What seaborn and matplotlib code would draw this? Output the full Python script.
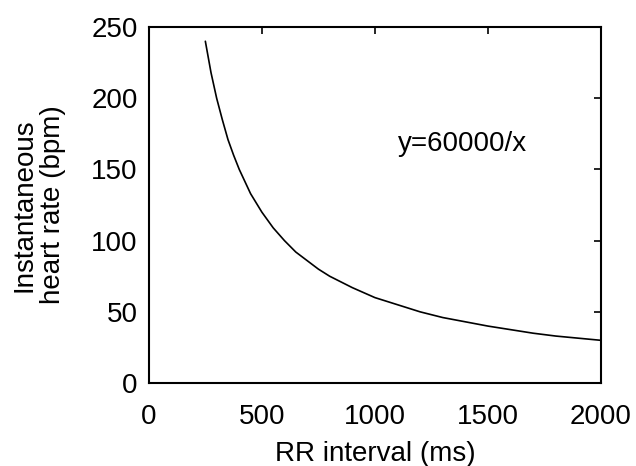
import matplotlib
matplotlib.use('Agg')
import matplotlib.pyplot as plt
import seaborn as sns
import pandas as pd

# valores (intervalo RR em ms, frequência em bpm)
rr_ms = [250, 275, 300, 325, 350, 375, 400, 450, 500, 550, 600, 650, 700, 750, 800,
         900, 1000, 1100, 1200, 1300, 1400, 1500, 1600, 1700, 1800, 1900, 2000]
hr_bpm = [240, 218, 200, 185, 171, 160, 150, 133, 120, 109, 100, 92, 86, 80, 75,
          67, 60, 55, 50, 46, 43, 40, 37.5, 35, 33, 31.5, 30]

df = pd.DataFrame({'RR': rr_ms, 'HR': hr_bpm})

sns.set_style('white')
plt.rcParams['font.family'] = ['Liberation Sans', 'DejaVu Sans']
plt.rcParams['text.color'] = 'black'
plt.rcParams['axes.labelcolor'] = 'black'
plt.rcParams['xtick.color'] = 'black'
plt.rcParams['ytick.color'] = 'black'

fig = plt.figure(figsize=(6.36, 4.66), dpi=100)
ax = fig.add_axes([0.234, 0.178, 0.711, 0.764])

sns.lineplot(data=df, x='RR', y='HR', color='black', linewidth=1.2, ax=ax)

ax.set_xlim(0, 2000)
ax.set_ylim(0, 250)
ax.set_xticks([0, 500, 1000, 1500, 2000])
ax.set_yticks([0, 50, 100, 150, 200, 250])
ax.tick_params(direction='in', top=True, right=True, labelsize=20,
               length=5, width=1.2, color='black')
ax.tick_params(axis='x', pad=15)
ax.tick_params(axis='y', pad=8)
for s in ax.spines.values():
    s.set_color('black')
    s.set_linewidth(1.5)

ax.set_xlabel('RR interval (ms)', fontsize=20, labelpad=8)
ax.set_ylabel('Instantaneous\nheart rate (bpm)', fontsize=20, labelpad=18,
              linespacing=1.15)
ax.text(1100, 168, 'y=60000/x', fontsize=20, va='center', ha='left')

fig.savefig('out.png', dpi=100)
